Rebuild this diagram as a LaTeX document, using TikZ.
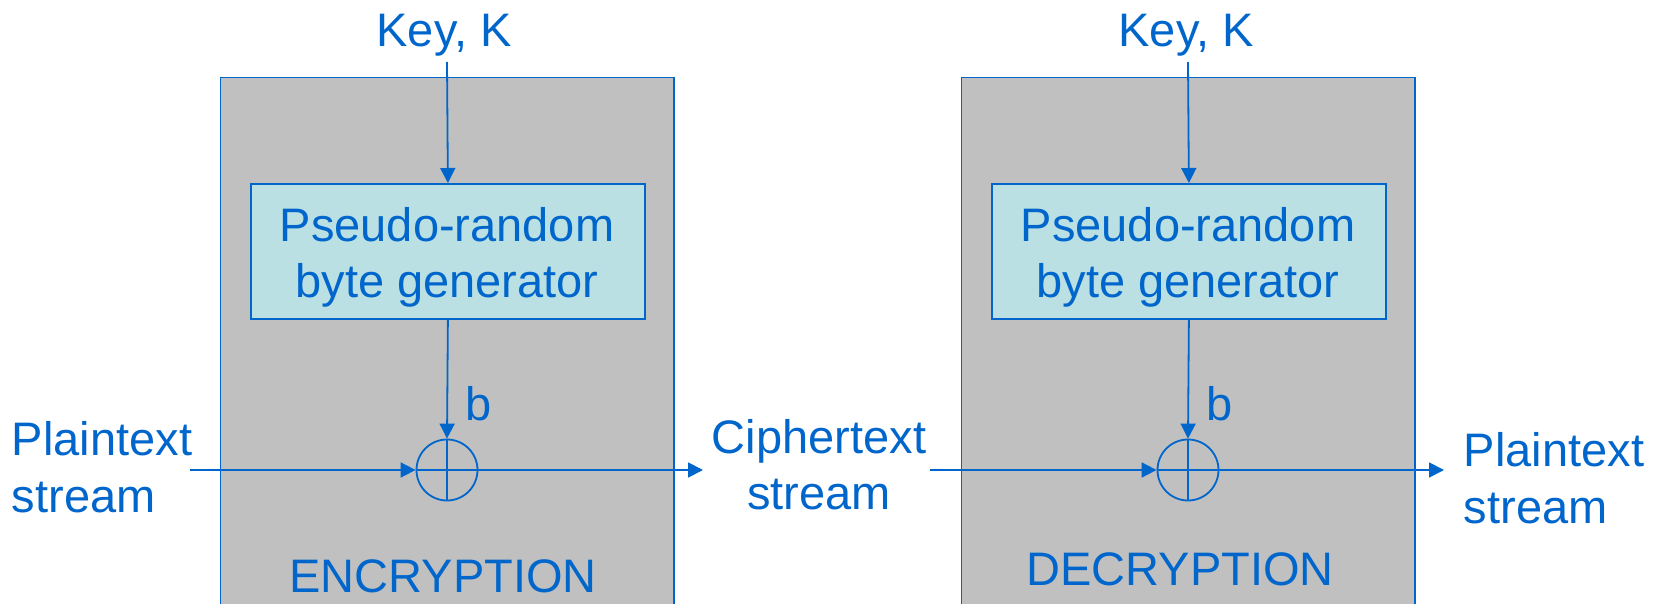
\documentclass[tikz,border=0pt]{standalone}
\usepackage{fontspec}
\setmainfont{Liberation Sans}
\usetikzlibrary{arrows.meta}
\definecolor{cblue}{HTML}{0066CC}
\definecolor{cgray}{HTML}{C0C0C0}
\definecolor{ccyan}{HTML}{BAE0E4}
\newcommand{\linesL}[2]{\vtop{\baselineskip=57pt\halign{##\hfil\cr #1\cr #2\cr}}}
\newcommand{\linesC}[2]{\vtop{\baselineskip=56pt\halign{\hfil##\hfil\cr #1\cr #2\cr}}}
\begin{document}
\begin{tikzpicture}[x=1pt,y=-1pt, line width=1.8pt,
 txt/.style={text=cblue, font=\fontsize{47}{57}\selectfont, inner sep=0pt},
 panel/.style={draw=cblue, fill=cgray},
 gen/.style={draw=cblue, fill=ccyan, minimum width=394pt, minimum height=135pt, anchor=north west, inner sep=0pt},
 xorc/.style={circle, draw=cblue, minimum size=61pt, inner sep=0pt},
 flow/.style={draw=cblue, -{Triangle[length=15pt,width=15pt]}},
 wire/.style={draw=cblue}]
\useasboundingbox (0,0) rectangle (1666,604);
\fill[white] (0,0) rectangle (1666,604);
\begin{scope}
\clip (0,0) rectangle (1666,604);
\draw[panel] (220.5,77.5) rectangle (674,650);
\draw[panel] (961.5,77.5) rectangle (1415,650);
\end{scope}
% encryption side
\node[gen] (gen1) at (250,183) {};
\node[txt, anchor=base] (pg1) at (447,242) {\linesC{Pseudo-random}{byte generator}};
\node[txt, anchor=base] (key1) at (444,46.7) {Key, K};
\coordinate (k1) at (447,62);
\draw[flow] (k1) -- (gen1.north);
\node[xorc] (x1) at (447,470) {};
\draw[wire] (x1.north) -- (x1.south) (x1.west) -- (x1.east);
\draw[flow] (gen1.south) -- (x1.north);
\node[txt, anchor=base west] (b1) at (465,420) {b};
\coordinate (in1) at (190,470);
\coordinate (out1) at (703,470);
\draw[flow] (in1) -- (x1.west);
\draw[flow] (x1.east) -- (out1);
\node[txt, anchor=base west] (pt1) at (11,455) {\linesL{Plaintext}{stream}};
\node[txt, anchor=base] (ct) at (819,453) {\linesC{Ciphertext}{stream}};
\node[txt, anchor=base] (enc) at (443,592) {ENCRYPTION};
% decryption side
\node[gen] (gen2) at (991,183) {};
\node[txt, anchor=base] (pg2) at (1188,242) {\linesC{Pseudo-random}{byte generator}};
\node[txt, anchor=base] (key2) at (1186,46.7) {Key, K};
\coordinate (k2) at (1188,62);
\draw[flow] (k2) -- (gen2.north);
\node[xorc] (x2) at (1188,470) {};
\draw[wire] (x2.north) -- (x2.south) (x2.west) -- (x2.east);
\draw[flow] (gen2.south) -- (x2.north);
\node[txt, anchor=base west] (b2) at (1206,420) {b};
\coordinate (in2) at (930,470);
\coordinate (out2) at (1444,470);
\draw[flow] (in2) -- (x2.west);
\draw[flow] (x2.east) -- (out2);
\node[txt, anchor=base west] (pt2) at (1463,466) {\linesL{Plaintext}{stream}};
\node[txt, anchor=base] (dec) at (1180,585) {DECRYPTION};
\end{tikzpicture}
\end{document}
